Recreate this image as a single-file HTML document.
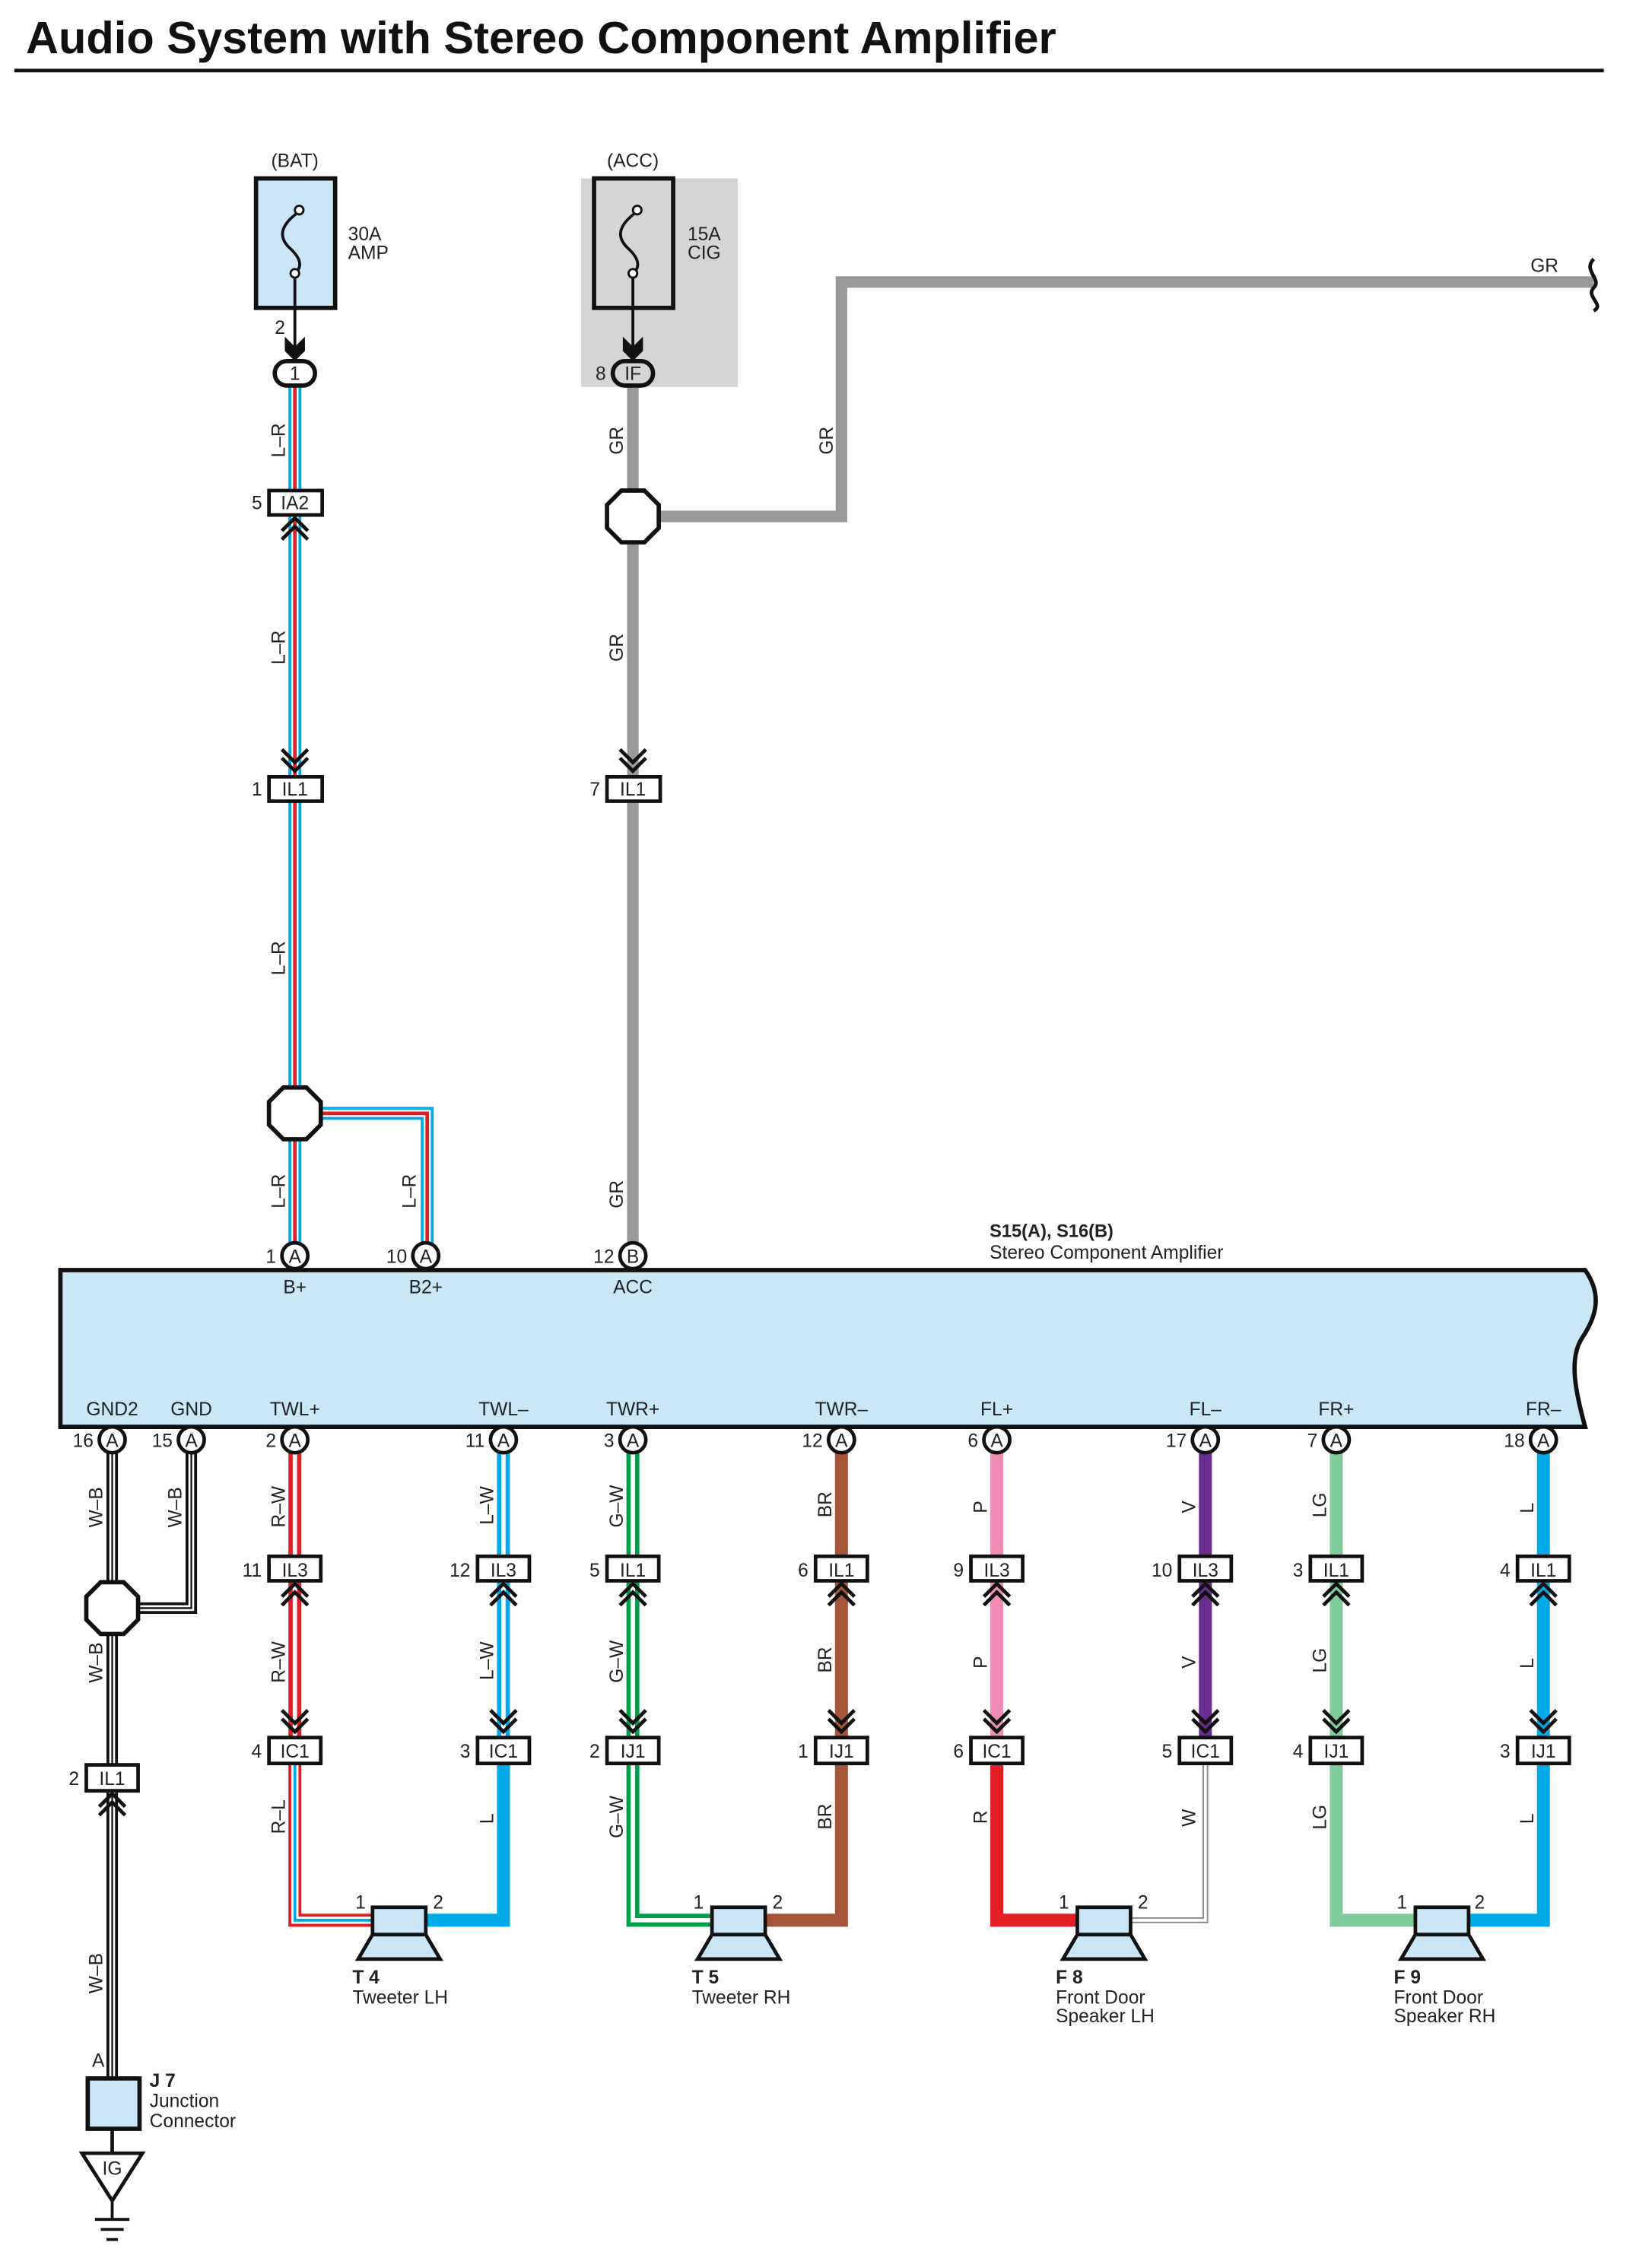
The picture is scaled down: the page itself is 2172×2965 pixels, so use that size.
<!DOCTYPE html>
<html><head><meta charset="utf-8"><style>
html,body{margin:0;padding:0;background:#fff}
svg{display:block}
text{font-family:"Liberation Sans",Arial,sans-serif;font-size:13px;fill:#222}
</style></head><body>
<svg width="2172" height="2965" viewBox="0 0 1148.5 1567.7" xmlns="http://www.w3.org/2000/svg">
<defs>
<path id="lr1" d="M205 268V341"/><path id="lr2" d="M205 358V540"/><path id="lr3" d="M205 557V873M205 774H297V873"/>
<path id="g1" d="M78 1010V1227M133 1010V1118H78"/><path id="g2" d="M78 1245V1445"/>
<path id="a1" d="M205 1010V1082"/><path id="a2" d="M205 1099V1208"/><path id="a3" d="M205 1226V1335H258"/>
<path id="b1" d="M350 1010V1082"/><path id="b2" d="M350 1099V1208"/>
<path id="c1" d="M440 1010V1082"/><path id="c2" d="M440 1099V1208"/><path id="c3" d="M440 1226V1335H494"/>
<path id="w3" d="M838 1226V1335H786"/>
</defs>
<rect width="1160" height="1584" fill="#fff"/>
<text x="18" y="37" style="font-size:31.5px;font-weight:bold;fill:#111">Audio System with Stereo Component Amplifier</text>
<line x1="10" y1="49" x2="1115" y2="49" stroke="#111" stroke-width="2.5"/>

<rect x="404" y="124" width="109" height="145" fill="#d4d5d7"/>
<rect x="178" y="124" width="55" height="90" fill="#c8e6f8" stroke="#111" stroke-width="3"/>
<rect x="413" y="124" width="55" height="90" fill="#d4d5d7" stroke="#111" stroke-width="3"/>
<g fill="none" stroke="#111" stroke-width="2">
<path d="M208 147 C194 157,194 165,201 172 C210 180,210 186,205 190"/>
<path d="M443 147 C429 157,429 165,436 172 C445 180,445 186,440 190"/>
<line x1="205" y1="193" x2="205" y2="242"/><line x1="440" y1="193" x2="440" y2="242"/>
</g>
<g fill="#fff" stroke="#111" stroke-width="1.5"><circle cx="208" cy="146" r="3"/><circle cx="205" cy="190" r="3"/><circle cx="443" cy="146" r="3"/><circle cx="440" cy="190" r="3"/></g>
<path d="M198 234 L205 241 L212 234 L212 244 L205 251 L198 244Z" fill="#111"/>
<path d="M433 234 L440 241 L447 234 L447 244 L440 251 L433 244Z" fill="#111"/>
<text x="205" y="116" text-anchor="middle">(BAT)</text><text x="440" y="116" text-anchor="middle">(ACC)</text>
<text x="242" y="167">30A</text><text x="242" y="180">AMP</text>
<text x="478" y="167">15A</text><text x="478" y="180">CIG</text>
<text x="191" y="232">2</text><text x="414" y="264">8</text>

<g fill="none" stroke="#98999b" stroke-width="8">
<path d="M440 268V873"/><path d="M440 359H585V196H1108"/>
</g>
<path d="M1108 180 C1100 188,1114 194,1108 200 C1102 206,1116 212,1108 216" fill="none" stroke="#111" stroke-width="2.5"/>
<g fill="none">
<use href="#lr1" stroke="#00a9e8" stroke-width="9"/><use href="#lr1" stroke="#fff" stroke-width="5"/><use href="#lr1" stroke="#e31e24" stroke-width="2.5"/>
<use href="#lr2" stroke="#00a9e8" stroke-width="9"/><use href="#lr2" stroke="#fff" stroke-width="5"/><use href="#lr2" stroke="#e31e24" stroke-width="2.5"/>
<use href="#lr3" stroke="#00a9e8" stroke-width="9"/><use href="#lr3" stroke="#fff" stroke-width="5"/><use href="#lr3" stroke="#e31e24" stroke-width="2.5"/>
</g>
<rect x="191" y="251" width="28" height="17" rx="8.5" fill="#fff" stroke="#111" stroke-width="3"/><text x="205" y="264" text-anchor="middle">1</text>
<rect x="426" y="251" width="28" height="17" rx="8.5" fill="#d4d5d7" stroke="#111" stroke-width="3"/><text x="440" y="264" text-anchor="middle">IF</text>
<g fill="#fff" stroke="#111" stroke-width="3">
<polygon points="432,341 448,341 458,351 458,367 448,377 432,377 422,367 422,351"/>
<polygon points="197,756 213,756 223,766 223,782 213,792 197,792 187,782 187,766"/>
</g>
<g fill="#fff" stroke="#111" stroke-width="2.5">
<rect x="187" y="341" width="37" height="17"/><rect x="187" y="540" width="37" height="17"/><rect x="422" y="540" width="37" height="17"/>
</g>
<text x="205" y="354" text-anchor="middle">IA2</text><text x="205" y="553" text-anchor="middle">IL1</text><text x="440" y="553" text-anchor="middle">IL1</text>
<text x="175" y="354">5</text><text x="175" y="553">1</text><text x="410" y="553">7</text>
<g fill="none" stroke="#111" stroke-width="2.5">
<path d="M196 369L205 360L214 369M196 375L205 366L214 375"/>
<path d="M196 521L205 530L214 521M196 527L205 536L214 527"/>
<path d="M431 521L440 530L449 521M431 527L440 536L449 527"/>
</g>
<g>
<text transform="translate(198,318) rotate(-90)">L–R</text>
<text transform="translate(198,462) rotate(-90)">L–R</text>
<text transform="translate(198,678) rotate(-90)">L–R</text>
<text transform="translate(198,840) rotate(-90)">L–R</text>
<text transform="translate(289,840) rotate(-90)">L–R</text>
<text transform="translate(433,316) rotate(-90)">GR</text>
<text transform="translate(579,316) rotate(-90)">GR</text>
<text transform="translate(433,460) rotate(-90)">GR</text>
<text transform="translate(433,840) rotate(-90)">GR</text>
</g>
<text x="1064" y="189">GR</text>
<text x="688" y="860" style="font-weight:bold;font-size:12.5px">S15(A), S16(B)</text>
<text x="688" y="875">Stereo Component Amplifier</text>

<path d="M42 883H1102 C1114 900,1110 915,1100 930 C1090 945,1096 970,1102 992H42Z" fill="#c8e8f8" stroke="#111" stroke-width="3"/>
<text x="205" y="899" text-anchor="middle">B+</text><text x="296" y="899" text-anchor="middle">B2+</text><text x="440" y="899" text-anchor="middle">ACC</text>
<g text-anchor="middle">
<text x="78" y="984">GND2</text><text x="133" y="984">GND</text><text x="205" y="984">TWL+</text><text x="350" y="984">TWL–</text>
<text x="440" y="984">TWR+</text><text x="585" y="984">TWR–</text><text x="693" y="984">FL+</text><text x="838" y="984">FL–</text>
<text x="929" y="984">FR+</text><text x="1073" y="984">FR–</text>
</g>

<g fill="none">
<use href="#g1" stroke="#111" stroke-width="8"/><use href="#g1" stroke="#fff" stroke-width="4"/><use href="#g1" stroke="#111" stroke-width="1.2"/>
<use href="#g2" stroke="#111" stroke-width="8"/><use href="#g2" stroke="#fff" stroke-width="4"/><use href="#g2" stroke="#111" stroke-width="1.2"/>
<use href="#a1" stroke="#e31e24" stroke-width="9"/><use href="#a1" stroke="#fff" stroke-width="3"/>
<use href="#a2" stroke="#e31e24" stroke-width="9"/><use href="#a2" stroke="#fff" stroke-width="3"/>
<use href="#a3" stroke="#e31e24" stroke-width="9"/><use href="#a3" stroke="#fff" stroke-width="5"/><use href="#a3" stroke="#00a9e8" stroke-width="2"/>
<use href="#b1" stroke="#00a9e8" stroke-width="9"/><use href="#b1" stroke="#fff" stroke-width="3"/>
<use href="#b2" stroke="#00a9e8" stroke-width="9"/><use href="#b2" stroke="#fff" stroke-width="3"/>
<use href="#c1" stroke="#00a04b" stroke-width="9"/><use href="#c1" stroke="#fff" stroke-width="3"/>
<use href="#c2" stroke="#00a04b" stroke-width="9"/><use href="#c2" stroke="#fff" stroke-width="3"/>
<use href="#c3" stroke="#00a04b" stroke-width="9"/><use href="#c3" stroke="#fff" stroke-width="3"/>
<path d="M350 1226V1335H296" stroke="#00a9e8" stroke-width="9"/>
<path d="M585 1010V1082M585 1099V1208M585 1226V1335H532" stroke="#a4553a" stroke-width="9"/>
<path d="M693 1010V1082M693 1099V1208" stroke="#f08cb4" stroke-width="9"/>
<path d="M693 1226V1335H748" stroke="#e31e24" stroke-width="9"/>
<path d="M838 1010V1082M838 1099V1208" stroke="#6a2c8e" stroke-width="9"/>
<use href="#w3" stroke="#888" stroke-width="4"/><use href="#w3" stroke="#fff" stroke-width="2"/>
<path d="M929 1010V1082M929 1099V1208M929 1226V1335H983" stroke="#7fcb9a" stroke-width="9"/>
<path d="M1073 1010V1082M1073 1099V1208M1073 1226V1335H1021" stroke="#00a9e8" stroke-width="9"/>
</g>
<polygon points="70,1100 86,1100 96,1110 96,1126 86,1136 70,1136 60,1126 60,1110" fill="#fff" stroke="#111" stroke-width="3"/>

<g fill="#fff" stroke="#111" stroke-width="2.5">
<circle cx="205" cy="873" r="9"/><circle cx="296" cy="873" r="9"/><circle cx="440" cy="873" r="9"/>
<circle cx="78" cy="1001" r="9"/><circle cx="133" cy="1001" r="9"/><circle cx="205" cy="1001" r="9"/><circle cx="350" cy="1001" r="9"/><circle cx="440" cy="1001" r="9"/>
<circle cx="585" cy="1001" r="9"/><circle cx="693" cy="1001" r="9"/><circle cx="838" cy="1001" r="9"/><circle cx="929" cy="1001" r="9"/><circle cx="1073" cy="1001" r="9"/>
</g>
<g text-anchor="middle" style="font-size:12px">
<text x="205" y="878">A</text><text x="296" y="878">A</text><text x="440" y="878">B</text>
<text x="78" y="1006">A</text><text x="133" y="1006">A</text><text x="205" y="1006">A</text><text x="350" y="1006">A</text><text x="440" y="1006">A</text>
<text x="585" y="1006">A</text><text x="693" y="1006">A</text><text x="838" y="1006">A</text><text x="929" y="1006">A</text><text x="1073" y="1006">A</text>
</g>
<g text-anchor="end">
<text x="192" y="878">1</text><text x="283" y="878">10</text><text x="427" y="878">12</text>
<text x="65" y="1006">16</text><text x="120" y="1006">15</text><text x="192" y="1006">2</text><text x="337" y="1006">11</text><text x="427" y="1006">3</text>
<text x="572" y="1006">12</text><text x="680" y="1006">6</text><text x="825" y="1006">17</text><text x="916" y="1006">7</text><text x="1060" y="1006">18</text>
</g>

<g fill="#fff" stroke="#111" stroke-width="2.5">
<rect x="187" y="1082" width="36" height="17"/><rect x="332" y="1082" width="36" height="17"/><rect x="422" y="1082" width="36" height="17"/><rect x="567" y="1082" width="36" height="17"/>
<rect x="675" y="1082" width="36" height="17"/><rect x="820" y="1082" width="36" height="17"/><rect x="911" y="1082" width="36" height="17"/><rect x="1055" y="1082" width="36" height="17"/>
<rect x="187" y="1208" width="36" height="18"/><rect x="332" y="1208" width="36" height="18"/><rect x="422" y="1208" width="36" height="18"/><rect x="567" y="1208" width="36" height="18"/>
<rect x="675" y="1208" width="36" height="18"/><rect x="820" y="1208" width="36" height="18"/><rect x="911" y="1208" width="36" height="18"/><rect x="1055" y="1208" width="36" height="18"/>
<rect x="60" y="1227" width="36" height="18"/>
</g>
<g text-anchor="middle">
<text x="205" y="1096">IL3</text><text x="350" y="1096">IL3</text><text x="440" y="1096">IL1</text><text x="585" y="1096">IL1</text>
<text x="693" y="1096">IL3</text><text x="838" y="1096">IL3</text><text x="929" y="1096">IL1</text><text x="1073" y="1096">IL1</text>
<text x="205" y="1222">IC1</text><text x="350" y="1222">IC1</text><text x="440" y="1222">IJ1</text><text x="585" y="1222">IJ1</text>
<text x="693" y="1222">IC1</text><text x="838" y="1222">IC1</text><text x="929" y="1222">IJ1</text><text x="1073" y="1222">IJ1</text>
<text x="78" y="1241">IL1</text>
</g>
<g text-anchor="end">
<text x="182" y="1096">11</text><text x="327" y="1096">12</text><text x="417" y="1096">5</text><text x="562" y="1096">6</text>
<text x="670" y="1096">9</text><text x="815" y="1096">10</text><text x="906" y="1096">3</text><text x="1050" y="1096">4</text>
<text x="182" y="1222">4</text><text x="327" y="1222">3</text><text x="417" y="1222">2</text><text x="562" y="1222">1</text>
<text x="670" y="1222">6</text><text x="815" y="1222">5</text><text x="906" y="1222">4</text><text x="1050" y="1222">3</text>
<text x="55" y="1241">2</text>
</g>
<g fill="none" stroke="#111" stroke-width="2.5">
<path d="M196 1110L205 1101L214 1110M196 1116L205 1107L214 1116M196 1189L205 1198L214 1189M196 1195L205 1204L214 1195"/>
<path d="M341 1110L350 1101L359 1110M341 1116L350 1107L359 1116M341 1189L350 1198L359 1189M341 1195L350 1204L359 1195"/>
<path d="M431 1110L440 1101L449 1110M431 1116L440 1107L449 1116M431 1189L440 1198L449 1189M431 1195L440 1204L449 1195"/>
<path d="M576 1110L585 1101L594 1110M576 1116L585 1107L594 1116M576 1189L585 1198L594 1189M576 1195L585 1204L594 1195"/>
<path d="M684 1110L693 1101L702 1110M684 1116L693 1107L702 1116M684 1189L693 1198L702 1189M684 1195L693 1204L702 1195"/>
<path d="M829 1110L838 1101L847 1110M829 1116L838 1107L847 1116M829 1189L838 1198L847 1189M829 1195L838 1204L847 1195"/>
<path d="M920 1110L929 1101L938 1110M920 1116L929 1107L938 1116M920 1189L929 1198L938 1189M920 1195L929 1204L938 1195"/>
<path d="M1064 1110L1073 1101L1082 1110M1064 1116L1073 1107L1082 1116M1064 1189L1073 1198L1082 1189M1064 1195L1073 1204L1082 1195"/>
<path d="M69 1256L78 1247L87 1256M69 1262L78 1253L87 1262"/>
</g>
<g>
<text transform="translate(71,1062) rotate(-90)">W–B</text><text transform="translate(126,1062) rotate(-90)">W–B</text><text transform="translate(71,1170) rotate(-90)">W–B</text><text transform="translate(71,1386) rotate(-90)">W–B</text>
<text transform="translate(198,1062) rotate(-90)">R–W</text><text transform="translate(198,1170) rotate(-90)">R–W</text><text transform="translate(198,1275) rotate(-90)">R–L</text>
<text transform="translate(343,1060) rotate(-90)">L–W</text><text transform="translate(343,1168) rotate(-90)">L–W</text><text transform="translate(343,1268) rotate(-90)">L</text>
<text transform="translate(433,1062) rotate(-90)">G–W</text><text transform="translate(433,1170) rotate(-90)">G–W</text><text transform="translate(433,1278) rotate(-90)">G–W</text>
<text transform="translate(578,1055) rotate(-90)">BR</text><text transform="translate(578,1163) rotate(-90)">BR</text><text transform="translate(578,1272) rotate(-90)">BR</text>
<text transform="translate(686,1052) rotate(-90)">P</text><text transform="translate(686,1160) rotate(-90)">P</text><text transform="translate(686,1268) rotate(-90)">R</text>
<text transform="translate(831,1052) rotate(-90)">V</text><text transform="translate(831,1160) rotate(-90)">V</text><text transform="translate(831,1270) rotate(-90)">W</text>
<text transform="translate(922,1055) rotate(-90)">LG</text><text transform="translate(922,1163) rotate(-90)">LG</text><text transform="translate(922,1272) rotate(-90)">LG</text>
<text transform="translate(1066,1052) rotate(-90)">L</text><text transform="translate(1066,1160) rotate(-90)">L</text><text transform="translate(1066,1268) rotate(-90)">L</text>
</g>
<g fill="#c8e6f8" stroke="#111" stroke-width="2.5">
<rect x="259" y="1326" width="37" height="19"/><polygon points="259,1345 296,1345 306,1362 249,1362"/>
<rect x="495" y="1326" width="37" height="19"/><polygon points="495,1345 532,1345 542,1362 485,1362"/>
<rect x="749" y="1326" width="37" height="19"/><polygon points="749,1345 786,1345 796,1362 739,1362"/>
<rect x="984" y="1326" width="37" height="19"/><polygon points="984,1345 1021,1345 1031,1362 974,1362"/>
</g>
<text x="247" y="1327">1</text><text x="301" y="1327">2</text><text x="482" y="1327">1</text><text x="537" y="1327">2</text>
<text x="736" y="1327">1</text><text x="791" y="1327">2</text><text x="971" y="1327">1</text><text x="1025" y="1327">2</text>
<text x="245" y="1379" style="font-weight:bold">T 4</text><text x="245" y="1393">Tweeter LH</text>
<text x="481" y="1379" style="font-weight:bold">T 5</text><text x="481" y="1393">Tweeter RH</text>
<text x="734" y="1379" style="font-weight:bold">F 8</text><text x="734" y="1393">Front Door</text><text x="734" y="1406">Speaker LH</text>
<text x="969" y="1379" style="font-weight:bold">F 9</text><text x="969" y="1393">Front Door</text><text x="969" y="1406">Speaker RH</text>
<rect x="61" y="1445" width="36" height="35" fill="#c8e6f8" stroke="#111" stroke-width="3"/>
<text x="64" y="1437">A</text>
<text x="104" y="1451" style="font-weight:bold">J 7</text><text x="104" y="1465">Junction</text><text x="104" y="1479">Connector</text>
<line x1="78" y1="1480" x2="78" y2="1497" stroke="#111" stroke-width="2.5"/>
<polygon points="57,1497 99,1497 78,1530" fill="#fff" stroke="#111" stroke-width="2.5"/>
<text x="78" y="1512" text-anchor="middle">IG</text>
<g stroke="#111" stroke-width="2"><line x1="78" y1="1530" x2="78" y2="1543"/><line x1="66" y1="1543" x2="90" y2="1543"/><line x1="70" y1="1550" x2="86" y2="1550"/><line x1="74" y1="1557" x2="82" y2="1557"/></g>
</svg>
</body></html>
